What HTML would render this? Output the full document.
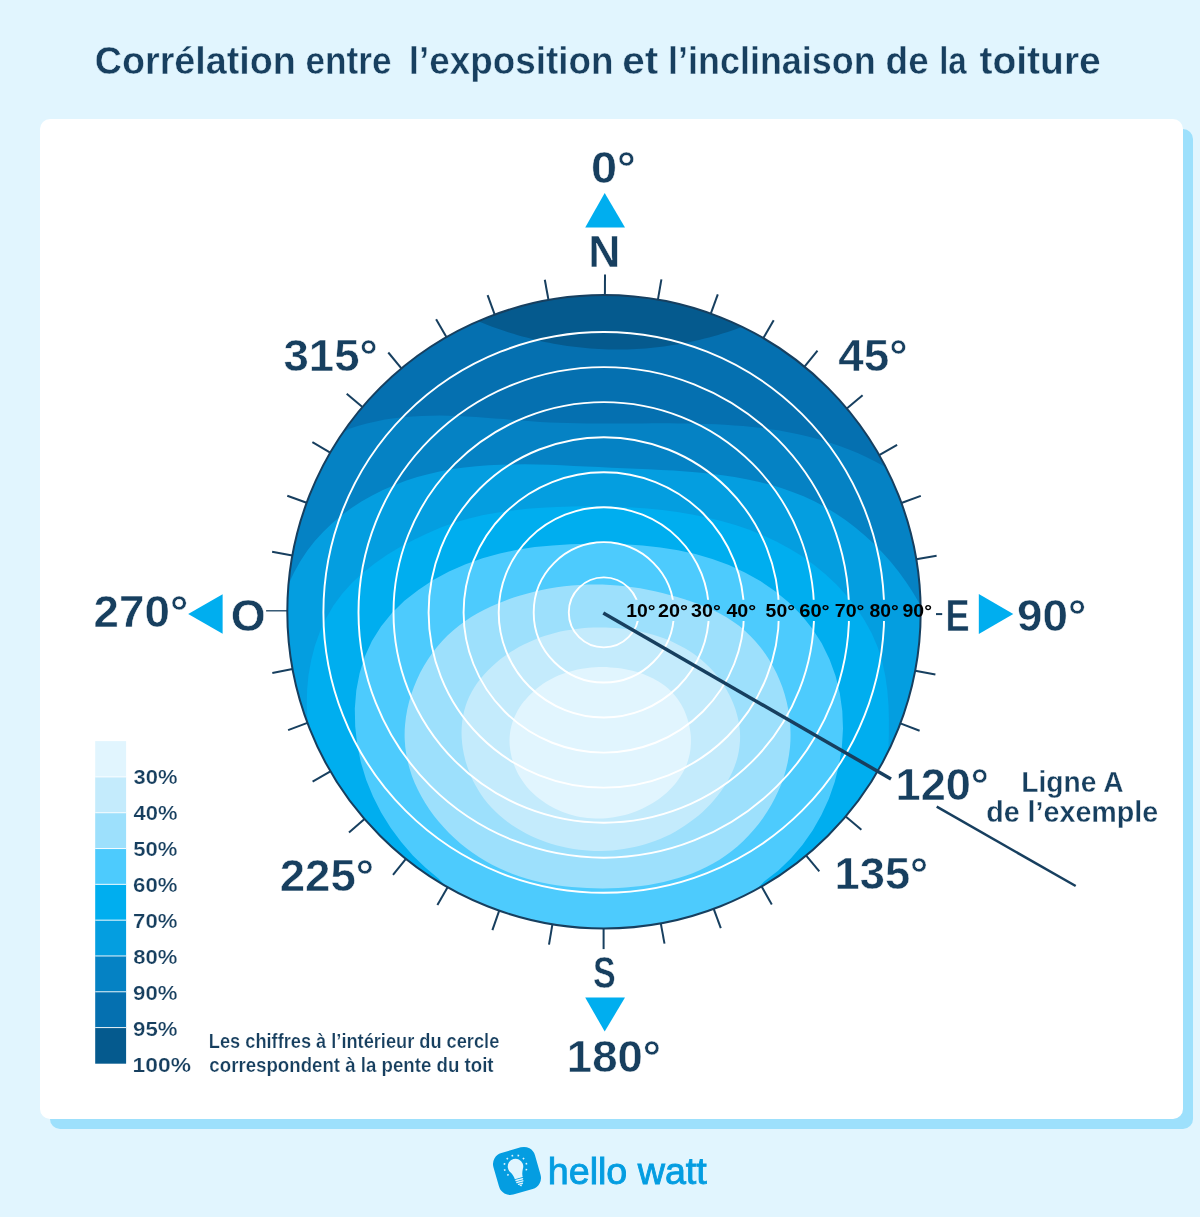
<!DOCTYPE html>
<html lang="fr"><head><meta charset="utf-8"><title>Corrélation entre l’exposition et l’inclinaison de la toiture</title>
<style>
html,body{margin:0;padding:0;background:#e1f5fe;}
body{width:1200px;height:1217px;overflow:hidden;font-family:"Liberation Sans",sans-serif;}
svg{display:block;will-change:transform;font-family:"Liberation Sans",sans-serif;}
</style></head><body>
<svg width="1200" height="1217" viewBox="0 0 1200 1217">
<defs><clipPath id="cc"><circle cx="604.0" cy="611.8" r="316.7"/></clipPath><mask id="rm" maskUnits="userSpaceOnUse" x="0" y="0" width="1200" height="1217"><rect width="1200" height="1217" fill="#fff"/><rect x="624" y="599.8" width="312" height="21.2" fill="#000"/></mask></defs>
<rect width="1200" height="1217" fill="#e1f5fe"/>
<rect x="50" y="129" width="1143" height="1000" rx="10" fill="#9de0fc"/>
<rect x="40" y="119" width="1143" height="1000" rx="10" fill="#fff"/>
<g clip-path="url(#cc)">
<circle cx="604.0" cy="611.8" r="317.7" fill="#0570b0"/>
<path d="M478.3 321.2L482.7 323.0L487.0 324.7L491.4 326.4L495.8 328.0L500.2 329.5L504.6 331.0L509.0 332.5L513.4 333.8L517.9 335.2L522.3 336.4L526.8 337.6L531.3 338.8L535.8 339.9L540.3 340.9L544.8 341.9L549.3 342.8L553.8 343.7L558.4 344.5L562.9 345.2L567.5 345.9L572.0 346.5L576.6 347.1L581.2 347.6L585.8 348.0L590.3 348.4L594.9 348.8L599.5 349.0L604.1 349.2L608.7 349.4L613.3 349.5L617.9 349.5L622.5 349.5L627.0 349.4L631.6 349.2L636.2 349.0L640.8 348.7L645.4 348.4L650.0 348.0L654.6 347.5L659.1 347.0L663.7 346.5L668.3 345.8L672.8 345.1L677.4 344.4L681.9 343.6L686.5 342.7L691.0 341.8L695.5 340.8L700.0 339.7L704.5 338.6L709.0 337.4L713.5 336.2L718.0 334.9L722.4 333.6L726.9 332.2L731.3 330.7L735.7 329.2L740.1 327.6L744.5 325.9L775.0 317.0L800.0 250.0L604.0 225.0L408.0 250.0L445.0 312.0Z" fill="#055a8e"/>
<path d="M348.6 428.9L357.7 426.0L366.8 423.5L375.9 421.4L385.0 419.6L394.2 418.3L403.3 417.2L412.4 416.4L421.5 415.9L430.6 415.7L439.7 415.6L448.9 415.7L458.0 416.1L467.1 416.5L476.2 417.1L485.4 417.7L494.5 418.4L503.7 419.1L512.9 419.9L522.1 420.6L531.2 421.3L540.5 421.9L549.7 422.4L558.9 422.8L568.1 423.1L577.4 423.3L586.7 423.4L595.9 423.5L605.2 423.5L614.5 423.5L623.7 423.5L633.0 423.4L642.3 423.4L651.5 423.3L660.8 423.3L670.0 423.3L679.2 423.4L688.4 423.5L697.6 423.7L706.8 424.0L716.0 424.3L725.1 424.8L734.2 425.4L743.3 426.1L752.4 427.0L761.4 428.0L770.4 429.2L779.4 430.6L788.3 432.2L797.2 434.0L806.0 436.0L814.8 438.2L823.6 440.7L832.3 443.5L841.0 446.5L849.6 449.7L858.2 453.3L866.7 457.2L875.2 461.4L883.6 465.9L930.0 490.0L1000.0 700.0L800.0 1050.0L604.0 1070.0L400.0 1050.0L210.0 700.0L300.0 460.0Z" fill="#0582c4"/>
<path d="M288.8 583.8L294.1 572.2L300.3 561.2L307.2 550.8L314.8 541.0L323.1 531.9L331.9 523.4L341.3 515.5L351.1 508.3L361.4 501.6L372.1 495.5L383.0 490.0L394.2 485.2L405.6 480.8L417.2 477.1L428.9 473.9L440.6 471.3L452.4 469.1L464.3 467.4L476.3 466.2L488.3 465.2L500.4 464.7L512.6 464.4L524.8 464.3L537.0 464.5L549.3 464.8L561.7 465.3L574.0 465.9L586.4 466.5L598.9 467.1L611.3 467.7L623.8 468.2L636.3 468.8L648.8 469.3L661.2 469.9L673.7 470.6L686.0 471.5L698.3 472.5L710.5 473.7L722.6 475.2L734.6 477.0L746.5 479.2L758.3 481.7L769.9 484.6L781.3 488.0L792.5 491.9L803.6 496.3L814.4 501.3L825.1 507.0L835.4 513.2L845.5 520.1L855.3 527.5L864.8 535.4L873.9 543.8L882.6 552.7L890.9 562.1L898.7 571.8L906.1 582.0L913.0 592.4L919.3 603.3L937.0 650.0L960.0 800.0L800.0 1010.0L604.0 1040.0L400.0 1010.0L245.0 800.0L266.0 650.0Z" fill="#049ee0"/>
<path d="M309.3 735.0L307.5 720.2L306.8 705.2L307.1 690.1L308.5 675.1L311.2 660.2L314.9 645.7L319.9 631.7L326.1 618.3L333.5 605.6L342.2 593.8L352.1 582.8L363.0 572.7L374.7 563.4L387.2 554.8L400.1 547.0L413.5 539.9L427.1 533.4L440.8 527.6L454.8 522.6L469.0 518.5L483.4 515.1L498.0 512.5L512.6 510.4L527.3 508.8L542.0 507.7L556.9 506.9L571.8 506.5L586.8 506.3L601.9 506.4L617.0 506.8L632.2 507.5L647.3 508.6L662.3 510.1L677.3 512.0L692.1 514.5L706.8 517.4L721.2 520.9L735.4 525.0L749.4 529.8L763.0 535.3L776.3 541.4L789.3 548.4L801.8 556.1L813.9 564.7L825.4 574.2L836.4 584.6L846.7 595.7L856.1 607.6L864.5 620.2L871.7 633.3L877.6 647.0L882.1 661.1L885.2 675.5L887.3 690.2L888.5 705.2L888.9 720.2L888.8 735.2L888.3 750.2L887.5 765.0L880.0 805.0L850.0 885.0L780.0 960.0L604.0 1000.0L425.0 960.0L352.0 885.0L318.0 805.0Z" fill="#00aeef"/>
<path d="M438.7 878.8L425.3 867.6L412.8 855.4L401.2 842.1L390.6 827.8L381.1 812.6L373.0 796.6L366.2 779.9L360.9 762.5L357.2 744.6L355.2 726.5L354.8 708.5L356.3 690.6L359.6 673.3L364.7 656.7L371.9 641.0L381.0 626.4L391.9 613.0L404.4 600.8L418.3 589.9L433.2 580.1L449.0 571.5L465.6 564.2L482.5 558.2L499.8 553.4L517.2 549.8L534.8 547.1L552.5 545.4L570.4 544.3L588.3 543.7L606.4 543.7L624.5 544.3L642.5 545.5L660.4 547.5L678.0 550.3L695.4 554.1L712.3 559.0L728.9 565.1L744.9 572.4L760.3 581.0L774.9 591.0L788.6 602.3L801.1 614.8L812.2 628.5L821.7 643.3L829.5 659.2L835.6 675.9L839.8 693.3L842.3 710.9L843.0 728.8L841.9 746.7L839.1 764.4L834.8 781.8L828.9 798.7L821.4 815.0L812.6 830.6L802.4 845.1L790.8 858.6L778.1 870.8L764.1 881.6L745.0 901.0L700.0 927.0L604.0 942.0L500.0 927.0L460.0 901.0Z" fill="#4dcbfd"/>
<path d="M610.1 584.9C615.1 585.2 620.1 585.6 625.1 586.2C630.1 586.8 635.1 587.5 640.1 588.3C645.1 589.2 650.0 590.2 654.9 591.3C659.9 592.4 664.8 593.6 669.7 594.9C674.7 596.2 679.6 597.7 684.5 599.2C689.4 600.8 694.4 602.5 699.2 604.3C704.0 606.2 708.8 608.1 713.4 610.3C718.0 612.5 722.6 614.9 726.9 617.5C731.2 620.2 735.4 623.0 739.4 626.1C743.3 629.3 747.1 632.6 750.6 636.2C754.2 639.8 757.5 643.6 760.6 647.5C763.7 651.5 766.6 655.7 769.3 659.9C771.9 664.2 774.4 668.7 776.6 673.3C778.7 677.8 780.7 682.5 782.4 687.3C784.1 692.1 785.5 697.0 786.7 701.9C787.9 706.9 788.8 711.9 789.4 716.9C790.1 721.9 790.5 727.0 790.5 732.1C790.6 737.1 790.5 742.2 790.0 747.2C789.5 752.3 788.7 757.3 787.7 762.2C786.7 767.2 785.3 772.1 783.8 776.9C782.2 781.7 780.4 786.5 778.3 791.1C776.2 795.8 773.9 800.4 771.4 804.8C768.9 809.2 766.1 813.6 763.2 817.7C760.3 821.9 757.1 826.0 753.8 829.8C750.5 833.7 746.9 837.4 743.3 840.9C739.6 844.4 735.8 847.8 731.8 850.9C727.8 854.0 723.7 857.0 719.5 859.7C715.3 862.4 710.9 864.8 706.4 867.1C701.9 869.3 697.4 871.4 692.7 873.2C688.0 875.0 683.3 876.7 678.4 878.1C673.6 879.6 668.7 880.9 663.7 882.0C658.8 883.1 653.7 884.1 648.7 884.9C643.6 885.7 638.5 886.3 633.4 886.8C628.3 887.3 623.1 887.7 618.0 888.0C612.8 888.2 607.6 888.4 602.5 888.4C597.3 888.4 592.2 888.4 587.1 888.1C581.9 887.9 576.8 887.6 571.7 887.1C566.7 886.6 561.6 886.0 556.6 885.2C551.6 884.4 546.6 883.5 541.6 882.4C536.7 881.4 531.8 880.1 527.0 878.7C522.2 877.3 517.4 875.7 512.7 873.9C508.0 872.2 503.4 870.2 498.8 868.1C494.3 865.9 489.8 863.6 485.4 861.0C481.0 858.5 476.7 855.7 472.6 852.8C468.4 849.8 464.3 846.7 460.4 843.4C456.5 840.1 452.7 836.6 449.0 833.0C445.4 829.4 441.9 825.6 438.6 821.6C435.4 817.7 432.3 813.7 429.4 809.5C426.5 805.3 423.8 801.0 421.4 796.6C418.9 792.2 416.7 787.6 414.7 783.0C412.8 778.4 411.1 773.7 409.7 768.9C408.3 764.1 407.1 759.3 406.3 754.4C405.4 749.5 404.9 744.5 404.7 739.5C404.5 734.5 404.6 729.4 405.1 724.3C405.5 719.3 406.3 714.2 407.3 709.2C408.3 704.2 409.7 699.1 411.3 694.2C412.9 689.3 414.8 684.4 416.9 679.7C419.0 674.9 421.4 670.3 424.0 665.8C426.6 661.3 429.4 657.0 432.5 652.8C435.5 648.7 438.8 644.7 442.2 641.0C445.6 637.2 449.3 633.7 453.1 630.5C456.9 627.2 460.8 624.1 464.9 621.3C469.0 618.4 473.3 615.8 477.6 613.3C482.0 610.9 486.5 608.6 491.0 606.5C495.6 604.4 500.2 602.5 505.0 600.7C509.7 598.9 514.5 597.2 519.4 595.7C524.2 594.2 529.1 592.9 534.1 591.7C539.1 590.5 544.1 589.4 549.1 588.5C554.1 587.6 559.2 586.9 564.3 586.3C569.4 585.7 574.5 585.2 579.6 584.9C584.7 584.6 589.8 584.5 594.8 584.5C599.9 584.5 605.0 584.6 610.1 584.9Z" fill="#9de0fc"/>
<path d="M609.9 627.7C613.6 627.9 617.4 628.2 621.1 628.6C624.8 629.0 628.6 629.5 632.2 630.1C635.9 630.7 639.6 631.4 643.2 632.2C646.9 633.0 650.5 634.0 654.0 635.0C657.6 636.1 661.1 637.3 664.5 638.6C668.0 639.9 671.4 641.3 674.7 642.9C678.0 644.4 681.2 646.1 684.4 647.9C687.6 649.7 690.6 651.7 693.6 653.8C696.6 655.9 699.5 658.1 702.2 660.4C705.0 662.8 707.7 665.3 710.2 667.9C712.8 670.6 715.2 673.4 717.5 676.2C719.7 679.1 721.9 682.1 723.9 685.2C725.8 688.3 727.7 691.5 729.3 694.8C731.0 698.0 732.5 701.4 733.8 704.8C735.1 708.1 736.2 711.6 737.1 715.1C738.0 718.5 738.8 722.0 739.3 725.6C739.8 729.1 740.1 732.6 740.1 736.1C740.1 739.6 740.0 743.2 739.5 746.6C739.1 750.1 738.5 753.6 737.6 757.0C736.7 760.4 735.6 763.8 734.3 767.2C733.0 770.5 731.5 773.8 729.8 777.0C728.2 780.2 726.3 783.4 724.3 786.4C722.3 789.5 720.1 792.5 717.8 795.5C715.5 798.4 713.1 801.2 710.6 804.0C708.0 806.7 705.3 809.3 702.6 811.9C699.8 814.4 696.9 816.8 694.0 819.1C691.1 821.4 688.1 823.6 685.0 825.6C681.9 827.7 678.8 829.6 675.5 831.4C672.3 833.2 669.1 834.9 665.7 836.5C662.4 838.0 659.0 839.4 655.6 840.8C652.2 842.1 648.7 843.2 645.2 844.3C641.7 845.3 638.1 846.3 634.6 847.1C631.0 847.9 627.4 848.6 623.7 849.1C620.1 849.7 616.4 850.1 612.7 850.4C609.0 850.7 605.3 850.9 601.6 850.9C597.8 851.0 594.1 850.9 590.4 850.7C586.6 850.5 582.9 850.1 579.2 849.7C575.5 849.2 571.8 848.6 568.1 847.9C564.4 847.2 560.8 846.4 557.2 845.5C553.6 844.5 550.0 843.4 546.5 842.2C543.0 841.0 539.5 839.7 536.1 838.3C532.7 836.8 529.4 835.2 526.1 833.6C522.9 831.9 519.7 830.1 516.6 828.1C513.5 826.2 510.5 824.1 507.6 822.0C504.6 819.8 501.8 817.5 499.1 815.1C496.4 812.7 493.8 810.1 491.4 807.5C488.9 804.8 486.6 802.1 484.4 799.2C482.2 796.3 480.1 793.3 478.2 790.1C476.3 787.0 474.5 783.8 472.9 780.5C471.3 777.2 469.8 773.7 468.6 770.3C467.3 766.8 466.1 763.3 465.2 759.7C464.3 756.2 463.5 752.6 462.9 748.9C462.3 745.3 461.9 741.7 461.7 738.1C461.5 734.5 461.5 730.8 461.7 727.2C461.9 723.7 462.3 720.1 463.0 716.6C463.6 713.1 464.4 709.7 465.5 706.3C466.6 703.0 467.8 699.7 469.3 696.5C470.8 693.3 472.6 690.2 474.4 687.2C476.3 684.2 478.4 681.3 480.7 678.5C482.9 675.7 485.3 673.0 487.9 670.4C490.4 667.8 493.1 665.3 495.9 662.9C498.7 660.5 501.7 658.2 504.7 656.1C507.7 653.9 510.8 651.8 514.0 649.9C517.2 648.0 520.5 646.2 523.8 644.5C527.1 642.9 530.5 641.3 533.9 639.9C537.3 638.5 540.8 637.2 544.3 636.1C547.8 634.9 551.3 633.9 554.9 632.9C558.4 632.0 562.0 631.2 565.7 630.6C569.3 629.9 572.9 629.3 576.6 628.9C580.2 628.4 583.9 628.1 587.6 627.8C591.3 627.6 595.0 627.5 598.7 627.5C602.5 627.4 606.2 627.5 609.9 627.7Z" fill="#c4ebfc"/>
<path d="M610.2 667.4C612.7 667.5 615.2 667.8 617.7 668.1C620.2 668.4 622.7 668.7 625.2 669.2C627.7 669.7 630.1 670.2 632.5 670.8C635.0 671.4 637.3 672.1 639.7 672.8C642.0 673.6 644.3 674.4 646.6 675.4C648.8 676.3 651.0 677.3 653.2 678.4C655.3 679.5 657.4 680.7 659.4 682.0C661.4 683.3 663.4 684.6 665.2 686.1C667.1 687.6 668.9 689.1 670.5 690.8C672.2 692.4 673.8 694.1 675.3 696.0C676.8 697.8 678.2 699.8 679.5 701.8C680.8 703.8 682.0 705.9 683.1 708.1C684.2 710.2 685.2 712.5 686.0 714.8C686.9 717.0 687.7 719.4 688.3 721.7C689.0 724.1 689.5 726.5 689.9 728.9C690.3 731.3 690.6 733.7 690.8 736.1C690.9 738.5 691.0 741.0 690.9 743.3C690.8 745.7 690.6 748.1 690.3 750.4C690.0 752.7 689.5 755.0 688.9 757.3C688.4 759.5 687.7 761.7 686.9 763.9C686.0 766.0 685.1 768.2 684.1 770.2C683.0 772.3 681.9 774.3 680.6 776.3C679.4 778.2 678.1 780.1 676.6 782.0C675.2 783.8 673.7 785.6 672.1 787.3C670.5 789.1 668.8 790.7 667.0 792.4C665.2 794.0 663.4 795.5 661.5 797.0C659.6 798.5 657.6 799.9 655.5 801.2C653.5 802.6 651.4 803.9 649.2 805.1C647.1 806.3 644.9 807.4 642.6 808.5C640.4 809.5 638.1 810.5 635.7 811.4C633.4 812.3 631.0 813.1 628.6 813.9C626.2 814.6 623.8 815.2 621.3 815.8C618.9 816.4 616.4 816.9 613.9 817.3C611.4 817.7 608.9 818.0 606.4 818.2C603.9 818.4 601.4 818.5 598.9 818.6C596.4 818.6 593.8 818.5 591.3 818.3C588.8 818.2 586.3 817.9 583.8 817.5C581.3 817.2 578.9 816.7 576.4 816.2C574.0 815.6 571.6 814.9 569.2 814.2C566.8 813.5 564.4 812.6 562.1 811.7C559.8 810.8 557.5 809.8 555.3 808.7C553.1 807.6 550.9 806.4 548.8 805.2C546.7 803.9 544.6 802.6 542.6 801.1C540.6 799.7 538.7 798.2 536.8 796.7C534.9 795.1 533.1 793.4 531.4 791.7C529.7 790.0 528.1 788.2 526.5 786.4C525.0 784.5 523.5 782.6 522.2 780.6C520.8 778.6 519.6 776.6 518.4 774.5C517.3 772.3 516.2 770.2 515.3 768.0C514.3 765.7 513.5 763.5 512.8 761.2C512.0 758.9 511.4 756.6 511.0 754.2C510.5 751.9 510.1 749.5 509.9 747.2C509.6 744.8 509.5 742.4 509.5 740.1C509.6 737.7 509.7 735.4 510.0 733.1C510.3 730.8 510.7 728.5 511.3 726.2C511.9 724.0 512.6 721.8 513.4 719.6C514.2 717.4 515.2 715.3 516.3 713.2C517.3 711.1 518.5 709.1 519.8 707.1C521.1 705.1 522.5 703.2 524.0 701.3C525.5 699.5 527.1 697.7 528.7 695.9C530.4 694.2 532.2 692.5 534.0 690.9C535.8 689.3 537.7 687.7 539.7 686.3C541.7 684.8 543.7 683.4 545.8 682.1C547.9 680.8 550.1 679.6 552.2 678.5C554.4 677.3 556.7 676.3 558.9 675.3C561.2 674.4 563.5 673.5 565.9 672.7C568.2 672.0 570.6 671.3 573.0 670.7C575.4 670.0 577.8 669.5 580.3 669.1C582.7 668.6 585.2 668.2 587.6 668.0C590.1 667.7 592.6 667.5 595.1 667.3C597.6 667.2 600.1 667.1 602.7 667.1C605.2 667.1 607.7 667.2 610.2 667.4Z" fill="#e1f5fe"/>
<g mask="url(#rm)">
<circle cx="603.8" cy="612.4" r="35.0" fill="none" stroke="#fff" stroke-width="1.9"/>
<circle cx="603.8" cy="612.4" r="70.1" fill="none" stroke="#fff" stroke-width="1.9"/>
<circle cx="603.8" cy="612.4" r="105.1" fill="none" stroke="#fff" stroke-width="1.9"/>
<circle cx="603.8" cy="612.4" r="140.2" fill="none" stroke="#fff" stroke-width="1.9"/>
<circle cx="603.8" cy="612.4" r="175.2" fill="none" stroke="#fff" stroke-width="1.9"/>
<circle cx="603.8" cy="612.4" r="210.3" fill="none" stroke="#fff" stroke-width="1.9"/>
<circle cx="603.8" cy="612.4" r="245.3" fill="none" stroke="#fff" stroke-width="1.9"/>
<circle cx="603.8" cy="612.4" r="280.4" fill="none" stroke="#fff" stroke-width="1.9"/>
</g>
</g>
<circle cx="604.0" cy="611.8" r="316.7" fill="none" stroke="#173f5f" stroke-width="2"/>
<line x1="604.9" y1="295.1" x2="605.0" y2="274.5" stroke="#173f5f" stroke-width="2"/>
<line x1="657.9" y1="299.7" x2="661.4" y2="279.4" stroke="#173f5f" stroke-width="2"/>
<line x1="710.8" y1="313.7" x2="717.8" y2="294.3" stroke="#173f5f" stroke-width="2"/>
<line x1="763.4" y1="338.1" x2="773.7" y2="320.3" stroke="#173f5f" stroke-width="2"/>
<line x1="804.5" y1="366.7" x2="817.5" y2="350.7" stroke="#173f5f" stroke-width="2"/>
<line x1="846.8" y1="408.4" x2="862.6" y2="395.2" stroke="#173f5f" stroke-width="2"/>
<line x1="879.2" y1="455.1" x2="897.1" y2="444.9" stroke="#173f5f" stroke-width="2"/>
<line x1="901.4" y1="503.0" x2="920.8" y2="495.9" stroke="#173f5f" stroke-width="2"/>
<line x1="916.3" y1="559.3" x2="936.6" y2="555.8" stroke="#173f5f" stroke-width="2"/>
<line x1="915.2" y1="670.8" x2="935.4" y2="674.6" stroke="#173f5f" stroke-width="2"/>
<line x1="900.4" y1="723.4" x2="919.6" y2="730.7" stroke="#173f5f" stroke-width="2"/>
<line x1="845.7" y1="816.5" x2="861.4" y2="829.8" stroke="#173f5f" stroke-width="2"/>
<line x1="806.2" y1="855.6" x2="819.3" y2="871.4" stroke="#173f5f" stroke-width="2"/>
<line x1="761.6" y1="886.5" x2="771.8" y2="904.4" stroke="#173f5f" stroke-width="2"/>
<line x1="713.7" y1="908.9" x2="720.8" y2="928.2" stroke="#173f5f" stroke-width="2"/>
<line x1="660.8" y1="923.4" x2="664.5" y2="943.6" stroke="#173f5f" stroke-width="2"/>
<line x1="603.6" y1="928.5" x2="603.6" y2="949.1" stroke="#173f5f" stroke-width="2"/>
<line x1="552.4" y1="924.3" x2="549.0" y2="944.6" stroke="#173f5f" stroke-width="2"/>
<line x1="499.2" y1="910.6" x2="492.4" y2="930.1" stroke="#173f5f" stroke-width="2"/>
<line x1="447.6" y1="887.2" x2="437.4" y2="905.1" stroke="#173f5f" stroke-width="2"/>
<line x1="405.9" y1="858.9" x2="393.0" y2="874.9" stroke="#173f5f" stroke-width="2"/>
<line x1="364.5" y1="819.1" x2="349.0" y2="832.6" stroke="#173f5f" stroke-width="2"/>
<line x1="330.4" y1="771.3" x2="312.6" y2="781.7" stroke="#173f5f" stroke-width="2"/>
<line x1="307.4" y1="722.9" x2="288.1" y2="730.1" stroke="#173f5f" stroke-width="2"/>
<line x1="292.5" y1="669.1" x2="272.3" y2="672.9" stroke="#173f5f" stroke-width="2"/>
<line x1="292.3" y1="555.5" x2="272.1" y2="551.8" stroke="#173f5f" stroke-width="2"/>
<line x1="306.6" y1="502.8" x2="287.3" y2="495.7" stroke="#173f5f" stroke-width="2"/>
<line x1="330.2" y1="452.6" x2="312.4" y2="442.2" stroke="#173f5f" stroke-width="2"/>
<line x1="362.4" y1="407.0" x2="346.7" y2="393.7" stroke="#173f5f" stroke-width="2"/>
<line x1="401.4" y1="368.3" x2="388.3" y2="352.5" stroke="#173f5f" stroke-width="2"/>
<line x1="446.4" y1="337.1" x2="436.1" y2="319.2" stroke="#173f5f" stroke-width="2"/>
<line x1="494.7" y1="314.6" x2="487.6" y2="295.2" stroke="#173f5f" stroke-width="2"/>
<line x1="548.5" y1="300.0" x2="544.8" y2="279.7" stroke="#173f5f" stroke-width="2"/>
<line x1="266.1" y1="610.8" x2="287.5" y2="610.8" stroke="#173f5f" stroke-width="1.3"/>
<line x1="936" y1="614.1" x2="942.2" y2="614.1" stroke="#173f5f" stroke-width="2"/>
<line x1="603.3" y1="612.9" x2="891.0" y2="779.0" stroke="#173f5f" stroke-width="3.5"/>
<line x1="936.7" y1="806.7" x2="1075.7" y2="886" stroke="#173f5f" stroke-width="2.5"/>
<path d="M604.7 193L625 227.5H585.2Z" fill="#00aeef"/>
<path d="M604.7 1031.5L625 997.5H585.2Z" fill="#00aeef"/>
<path d="M188.2 614.1L222.6 594.3V633.7Z" fill="#00aeef"/>
<path d="M1013.3 614.1L978.8 593.9V633.9Z" fill="#00aeef"/>
<text x="94.69" y="74.2" font-size="38.3" font-weight="bold" fill="#173f5f" textLength="201.23" lengthAdjust="spacingAndGlyphs" stroke="#e1f5fe" stroke-width="0.42">Corrélation</text>
<text x="305.39" y="74.2" font-size="38.3" font-weight="bold" fill="#173f5f" textLength="86.26" lengthAdjust="spacingAndGlyphs" stroke="#e1f5fe" stroke-width="0.42">entre</text>
<text x="408.72" y="74.2" font-size="38.3" font-weight="bold" fill="#173f5f" textLength="204.82" lengthAdjust="spacingAndGlyphs" stroke="#e1f5fe" stroke-width="0.42">l’exposition</text>
<text x="622.28" y="74.2" font-size="38.3" font-weight="bold" fill="#173f5f" textLength="35.99" lengthAdjust="spacingAndGlyphs" stroke="#e1f5fe" stroke-width="0.42">et</text>
<text x="668.09" y="74.2" font-size="38.3" font-weight="bold" fill="#173f5f" textLength="207.53" lengthAdjust="spacingAndGlyphs" stroke="#e1f5fe" stroke-width="0.42">l’inclinaison</text>
<text x="885.62" y="74.2" font-size="38.3" font-weight="bold" fill="#173f5f" textLength="43.04" lengthAdjust="spacingAndGlyphs" stroke="#e1f5fe" stroke-width="0.42">de</text>
<text x="939.18" y="74.2" font-size="38.3" font-weight="bold" fill="#173f5f" textLength="27.62" lengthAdjust="spacingAndGlyphs" stroke="#e1f5fe" stroke-width="0.42">la</text>
<text x="979.41" y="74.2" font-size="38.3" font-weight="bold" fill="#173f5f" textLength="121.40" lengthAdjust="spacingAndGlyphs" stroke="#e1f5fe" stroke-width="0.42">toiture</text>
<text x="591.02" y="183.0" font-size="44.0" font-weight="bold" fill="#173f5f" textLength="44.84" lengthAdjust="spacingAndGlyphs" stroke="#fff" stroke-width="0.48">0°</text>
<text x="566.87" y="1072.2" font-size="44.0" font-weight="bold" fill="#173f5f" textLength="94.03" lengthAdjust="spacingAndGlyphs" stroke="#fff" stroke-width="0.48">180°</text>
<text x="93.63" y="626.5" font-size="44.0" font-weight="bold" fill="#173f5f" textLength="94.59" lengthAdjust="spacingAndGlyphs" stroke="#fff" stroke-width="0.48">270°</text>
<text x="1016.97" y="631.0" font-size="44.0" font-weight="bold" fill="#173f5f" textLength="69.27" lengthAdjust="spacingAndGlyphs" stroke="#fff" stroke-width="0.48">90°</text>
<text x="283.49" y="370.8" font-size="44.0" font-weight="bold" fill="#173f5f" textLength="94.22" lengthAdjust="spacingAndGlyphs" stroke="#fff" stroke-width="0.48">315°</text>
<text x="838.18" y="370.8" font-size="44.0" font-weight="bold" fill="#173f5f" textLength="69.36" lengthAdjust="spacingAndGlyphs" stroke="#fff" stroke-width="0.48">45°</text>
<text x="279.73" y="890.6" font-size="44.0" font-weight="bold" fill="#173f5f" textLength="94.28" lengthAdjust="spacingAndGlyphs" stroke="#fff" stroke-width="0.48">225°</text>
<text x="834.58" y="888.8" font-size="44.0" font-weight="bold" fill="#173f5f" textLength="93.61" lengthAdjust="spacingAndGlyphs" stroke="#fff" stroke-width="0.48">135°</text>
<text x="895.59" y="799.8" font-size="44.0" font-weight="bold" fill="#173f5f" textLength="93.29" lengthAdjust="spacingAndGlyphs" stroke="#fff" stroke-width="0.48">120°</text>
<text x="588.29" y="267.2" font-size="43.6" font-weight="bold" fill="#173f5f" textLength="32.12" lengthAdjust="spacingAndGlyphs" stroke="#fff" stroke-width="0.48">N</text>
<text x="592.88" y="987.5" font-size="43.6" font-weight="bold" fill="#173f5f" textLength="22.68" lengthAdjust="spacingAndGlyphs" stroke="#fff" stroke-width="0.48">S</text>
<text x="230.71" y="631.0" font-size="43.6" font-weight="bold" fill="#173f5f" textLength="34.90" lengthAdjust="spacingAndGlyphs" stroke="#fff" stroke-width="0.48">O</text>
<text x="945.48" y="631.0" font-size="43.6" font-weight="bold" fill="#173f5f" textLength="24.06" lengthAdjust="spacingAndGlyphs" stroke="#fff" stroke-width="0.48">E</text>
<text x="1021.33" y="791.7" font-size="30.4" font-weight="bold" fill="#173f5f" textLength="102.20" lengthAdjust="spacingAndGlyphs" stroke="#fff" stroke-width="0.33">Ligne A</text>
<text x="986.15" y="821.7" font-size="30.4" font-weight="bold" fill="#173f5f" textLength="172.09" lengthAdjust="spacingAndGlyphs" stroke="#fff" stroke-width="0.33">de l’exemple</text>
<text x="626.34" y="616.9" font-size="18.6" font-weight="bold" fill="#000" textLength="29.28" lengthAdjust="spacingAndGlyphs">10°</text>
<text x="657.91" y="616.9" font-size="18.6" font-weight="bold" fill="#000" textLength="29.93" lengthAdjust="spacingAndGlyphs">20°</text>
<text x="691.11" y="616.9" font-size="18.6" font-weight="bold" fill="#000" textLength="29.73" lengthAdjust="spacingAndGlyphs">30°</text>
<text x="726.41" y="616.9" font-size="18.6" font-weight="bold" fill="#000" textLength="29.73" lengthAdjust="spacingAndGlyphs">40°</text>
<text x="765.62" y="616.9" font-size="18.6" font-weight="bold" fill="#000" textLength="29.30" lengthAdjust="spacingAndGlyphs">50°</text>
<text x="799.19" y="616.9" font-size="18.6" font-weight="bold" fill="#000" textLength="30.46" lengthAdjust="spacingAndGlyphs">60°</text>
<text x="834.82" y="616.9" font-size="18.6" font-weight="bold" fill="#000" textLength="29.61" lengthAdjust="spacingAndGlyphs">70°</text>
<text x="869.52" y="616.9" font-size="18.6" font-weight="bold" fill="#000" textLength="29.20" lengthAdjust="spacingAndGlyphs">80°</text>
<text x="902.52" y="616.9" font-size="18.6" font-weight="bold" fill="#000" textLength="29.40" lengthAdjust="spacingAndGlyphs">90°</text>
<rect x="95.2" y="741.10" width="30.9" height="36.11" fill="#e1f5fe"/>
<rect x="95.2" y="776.91" width="30.9" height="36.11" fill="#c4ebfc"/>
<rect x="95.2" y="812.72" width="30.9" height="36.11" fill="#9de0fc"/>
<rect x="95.2" y="848.53" width="30.9" height="36.11" fill="#4dcbfd"/>
<rect x="95.2" y="884.34" width="30.9" height="36.11" fill="#00aeef"/>
<rect x="95.2" y="920.15" width="30.9" height="36.11" fill="#049ee0"/>
<rect x="95.2" y="955.96" width="30.9" height="36.11" fill="#0582c4"/>
<rect x="95.2" y="991.77" width="30.9" height="36.11" fill="#0570b0"/>
<rect x="95.2" y="1027.58" width="30.9" height="36.11" fill="#055a8e"/>
<rect x="95.2" y="776.41" width="30.9" height="1" fill="#fff" opacity=".92"/>
<rect x="95.2" y="812.22" width="30.9" height="1" fill="#fff" opacity=".92"/>
<rect x="95.2" y="848.03" width="30.9" height="1" fill="#fff" opacity=".92"/>
<rect x="95.2" y="883.84" width="30.9" height="1" fill="#fff" opacity=".92"/>
<rect x="95.2" y="919.65" width="30.9" height="1" fill="#fff" opacity=".92"/>
<rect x="95.2" y="955.46" width="30.9" height="1" fill="#fff" opacity=".92"/>
<rect x="95.2" y="991.27" width="30.9" height="1" fill="#fff" opacity=".92"/>
<rect x="95.2" y="1027.08" width="30.9" height="1" fill="#fff" opacity=".92"/>
<text x="133.56" y="784.3" font-size="19.3" font-weight="bold" fill="#173f5f" textLength="43.93" lengthAdjust="spacingAndGlyphs" stroke="#fff" stroke-width="0.21">30%</text>
<text x="133.56" y="820.3" font-size="19.3" font-weight="bold" fill="#173f5f" textLength="43.93" lengthAdjust="spacingAndGlyphs" stroke="#fff" stroke-width="0.21">40%</text>
<text x="133.34" y="856.2" font-size="19.3" font-weight="bold" fill="#173f5f" textLength="44.16" lengthAdjust="spacingAndGlyphs" stroke="#fff" stroke-width="0.21">50%</text>
<text x="133.11" y="892.2" font-size="19.3" font-weight="bold" fill="#173f5f" textLength="44.39" lengthAdjust="spacingAndGlyphs" stroke="#fff" stroke-width="0.21">60%</text>
<text x="133.11" y="928.1" font-size="19.3" font-weight="bold" fill="#173f5f" textLength="44.39" lengthAdjust="spacingAndGlyphs" stroke="#fff" stroke-width="0.21">70%</text>
<text x="133.34" y="964.1" font-size="19.3" font-weight="bold" fill="#173f5f" textLength="44.16" lengthAdjust="spacingAndGlyphs" stroke="#fff" stroke-width="0.21">80%</text>
<text x="133.11" y="1000.1" font-size="19.3" font-weight="bold" fill="#173f5f" textLength="44.39" lengthAdjust="spacingAndGlyphs" stroke="#fff" stroke-width="0.21">90%</text>
<text x="133.11" y="1036.0" font-size="19.3" font-weight="bold" fill="#173f5f" textLength="44.39" lengthAdjust="spacingAndGlyphs" stroke="#fff" stroke-width="0.21">95%</text>
<text x="132.63" y="1072.0" font-size="19.3" font-weight="bold" fill="#173f5f" textLength="58.30" lengthAdjust="spacingAndGlyphs" stroke="#fff" stroke-width="0.21">100%</text>
<text x="208.83" y="1048.0" font-size="19.3" font-weight="bold" fill="#173f5f" textLength="290.44" lengthAdjust="spacingAndGlyphs" stroke="#fff" stroke-width="0.21">Les chiffres à l’intérieur du cercle</text>
<text x="209.35" y="1072.0" font-size="19.3" font-weight="bold" fill="#173f5f" textLength="284.20" lengthAdjust="spacingAndGlyphs" stroke="#fff" stroke-width="0.21">correspondent à la pente du toit</text>
<g transform="translate(517 1170.9) rotate(-16)">
<rect x="-21.6" y="-21.6" width="43.2" height="43.2" rx="11.5" fill="#049de1"/>
</g>
<g fill="#e1f5fe" transform="translate(515.5 1166.5) rotate(-16)">
<path d="M-4.1 12C-4.1 9-5.2 6.6-6.35 4.45A7.75 7.75 0 1 1 6.35 4.45C5.2 6.6 4.1 9 4.1 12Z"/>
<rect x="-4.1" y="12.9" width="8.2" height="1.5" rx=".7"/><rect x="-3.8" y="15.1" width="7.6" height="1.5" rx=".7"/><rect x="-2.7" y="17.3" width="5.4" height="1.4" rx=".7"/><path d="M-1.6 19.1h3.2L0 20.8z"/>
<rect x="-10.38" y="5.19" width="1.6" height="1.6" transform="rotate(-122.0 -9.58 5.99)"/>
<rect x="-12.10" y="-0.50" width="1.6" height="1.6" transform="rotate(-91.5 -11.30 0.30)"/>
<rect x="-10.68" y="-6.28" width="1.6" height="1.6" transform="rotate(-61.0 -9.88 -5.48)"/>
<rect x="-6.54" y="-10.54" width="1.6" height="1.6" transform="rotate(-30.5 -5.74 -9.74)"/>
<rect x="-0.80" y="-12.10" width="1.6" height="1.6" transform="rotate(0.0 0.00 -11.30)"/>
<rect x="4.94" y="-10.54" width="1.6" height="1.6" transform="rotate(30.5 5.74 -9.74)"/>
<rect x="9.08" y="-6.28" width="1.6" height="1.6" transform="rotate(61.0 9.88 -5.48)"/>
<rect x="10.50" y="-0.50" width="1.6" height="1.6" transform="rotate(91.5 11.30 0.30)"/>
<rect x="8.78" y="5.19" width="1.6" height="1.6" transform="rotate(122.0 9.58 5.99)"/>
</g>
<text x="547.77" y="1184.2" font-size="37.2" font-weight="normal" fill="#049de1" textLength="159.01" lengthAdjust="spacingAndGlyphs" stroke="#049de1" stroke-width="0.9">hello watt</text>
</svg>
</body></html>
